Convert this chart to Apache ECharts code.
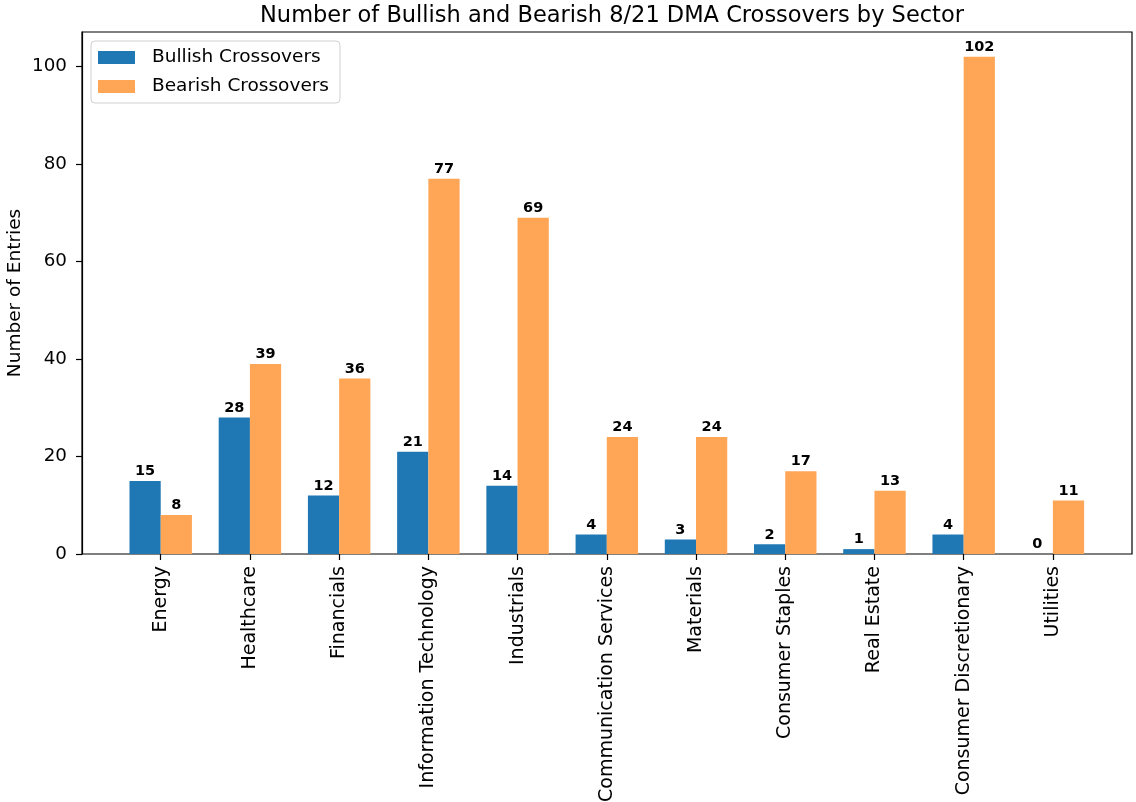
<!DOCTYPE html>
<html>
<head>
<meta charset="utf-8">
<script src="https://cdn.jsdelivr.net/npm/echarts@6/dist/echarts.min.js"></script>
<style>html,body{margin:0;padding:0;background:#fff}#c{width:1136px;height:802px}</style>
</head>
<body>
<div id="c"></div>
<script>
const sectors = ['Energy','Healthcare','Financials','Information Technology','Industrials','Communication Services','Materials','Consumer Staples','Real Estate','Consumer Discretionary','Utilities'];
const bullish = [15,28,12,21,14,4,3,2,1,4,0];
const bearish = [8,39,36,77,69,24,24,17,13,102,11];
const yTicks = [0,20,40,60,80,100];

const FONT = 'DejaVu Sans';
const chart = echarts.init(document.getElementById('c'), null, {renderer:'canvas'});
const yMax = 107.1;
const labelStyle = {show:true, position:'top', distance:2, fontWeight:'bold', fontSize:14.5, color:'#000', fontFamily:FONT};

chart.setOption({
  animation:false,
  backgroundColor:'#fff',
  textStyle:{fontFamily:FONT},
  title:{text:'Number of Bullish and Bearish 8/21 DMA Crossovers by Sector', left:607, textAlign:'center', top:0,
    textStyle:{fontFamily:FONT, fontSize:22.5, fontWeight:'normal', color:'#000'}},
  legend:{data:['Bullish Crossovers','Bearish Crossovers'], orient:'vertical', left:91, top:41,
    itemWidth:37, itemHeight:13, itemGap:10, padding:[7,11,7,7],
    borderColor:'#d0d0d0', borderWidth:1, borderRadius:4,
    textStyle:{fontFamily:FONT, fontSize:18.5, color:'#000', padding:[0,0,0,12]},
    icon:'rect'},
  grid:[
    {left:82, right:4, top:32, bottom:248, show:true, borderColor:'#000', borderWidth:1.2, backgroundColor:'transparent', outerBoundsMode:'none', containLabel:false},
    {left:116.1, width:981.4, top:32, bottom:248, outerBoundsMode:'none', containLabel:false}
  ],
  xAxis:[
    {gridIndex:0, type:'value', min:0, max:1, show:false},
    {gridIndex:1, type:'category', data:sectors,
      axisLine:{show:false},
      axisTick:{show:true, alignWithLabel:true, length:6, lineStyle:{color:'#000', width:1.2}},
      axisLabel:{rotate:90, margin:12, fontSize:19, color:'#000', fontFamily:FONT, interval:0}}
  ],
  yAxis:[
    {gridIndex:0, type:'value', min:0, max:yMax, interval:20,
      name:'Number of Entries', nameLocation:'middle', nameGap:57, nameMoveOverlap:false,
      nameTextStyle:{fontFamily:FONT, fontSize:18.5, color:'#000'},
      axisLine:{show:true, lineStyle:{color:'#000', width:1.2}},
      axisTick:{show:true, length:6, customValues:yTicks, lineStyle:{color:'#000', width:1.2}},
      axisLabel:{fontSize:18.3, color:'#000', fontFamily:FONT, margin:15, customValues:yTicks},
      splitLine:{show:false}},
    {gridIndex:1, type:'value', min:0, max:yMax, show:false}
  ],
  series:[
    {name:'Bullish Crossovers', type:'bar', xAxisIndex:1, yAxisIndex:1, data:bullish,
      barWidth:'35%', barGap:'0%', itemStyle:{color:'#1f77b4'}, label:labelStyle},
    {name:'Bearish Crossovers', type:'bar', xAxisIndex:1, yAxisIndex:1, data:bearish,
      barWidth:'35%', barGap:'0%', itemStyle:{color:'#ffa556'}, label:labelStyle}
  ]
});
</script>
</body>
</html>
